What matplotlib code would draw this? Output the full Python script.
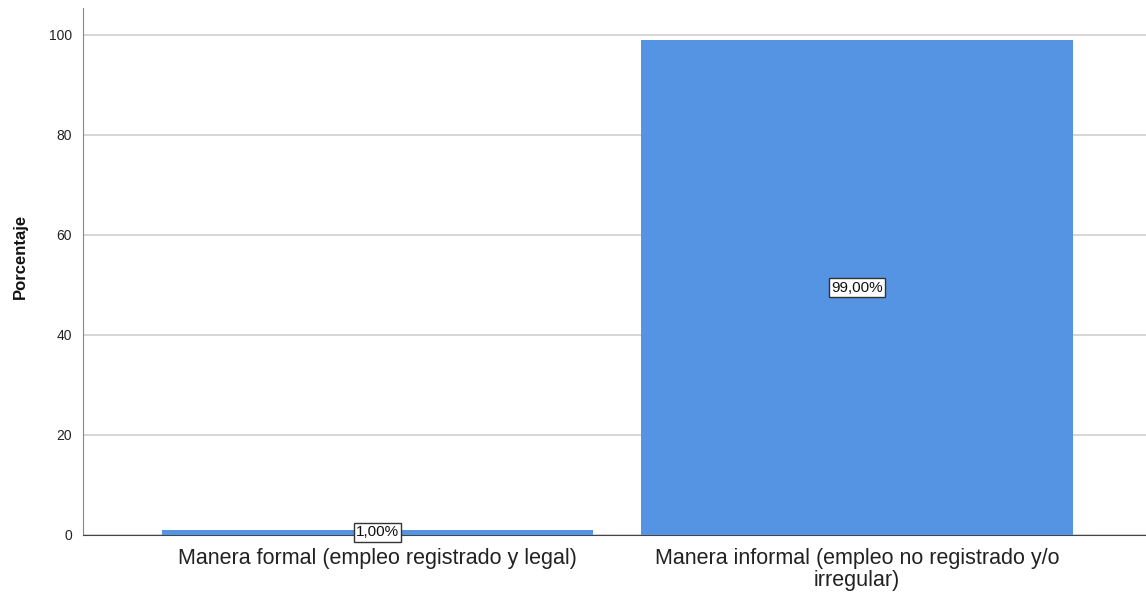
import matplotlib
matplotlib.use("Agg")
import matplotlib.pyplot as plt

categories = ["Manera formal (empleo registrado y legal)",
              "Manera informal (empleo no registrado y/o\nirregular)"]
values = [1.00, 99.00]
yticks = [0, 20, 40, 60, 80, 100]

plt.rcParams['font.family'] = ['Liberation Sans', 'DejaVu Sans']

fig = plt.figure(figsize=(11.46, 5.94), dpi=100)
ax = fig.add_axes([83/1146, 59/594, 1 - 83/1146, (535-8)/594])

x = list(range(len(categories)))
bars = ax.bar(x, values, width=0.9, color='#5594E3', zorder=3)

ax.set_xlim(-0.614, 1.603)
ax.set_ylim(0, 105.4)
ax.set_yticks(yticks)
ax.set_yticklabels([str(t) for t in yticks], fontsize=10, color='#222222')
ax.set_xticks(x)
ax.set_xticklabels(categories, fontsize=15.5, color='#222222', linespacing=1.02)
ax.tick_params(axis='both', length=0)
ax.tick_params(axis='x', pad=9.5)
ax.tick_params(axis='y', pad=8)

ax.grid(axis='y', color='#cfcfcf', linewidth=1.2, zorder=0)
for s in ['top', 'right']:
    ax.spines[s].set_visible(False)
ax.spines['left'].set_color('#888888')
ax.spines['bottom'].set_color('#444444')
fig.text(20/1146, 1 - 256/594, 'Porcentaje', rotation=90, ha='center', va='center',
         fontsize=12, fontweight='bold', color='#111111')

for xi, v in zip(x, values):
    ax.text(xi, v / 2, f"{v:.2f}".replace('.', ',') + '%', ha='center', va='center',
            fontsize=11, color='#111111', zorder=5,
            bbox=dict(boxstyle='square,pad=0.15', facecolor='white', edgecolor='#333333', linewidth=1))

fig.savefig('out.png', dpi=100)
